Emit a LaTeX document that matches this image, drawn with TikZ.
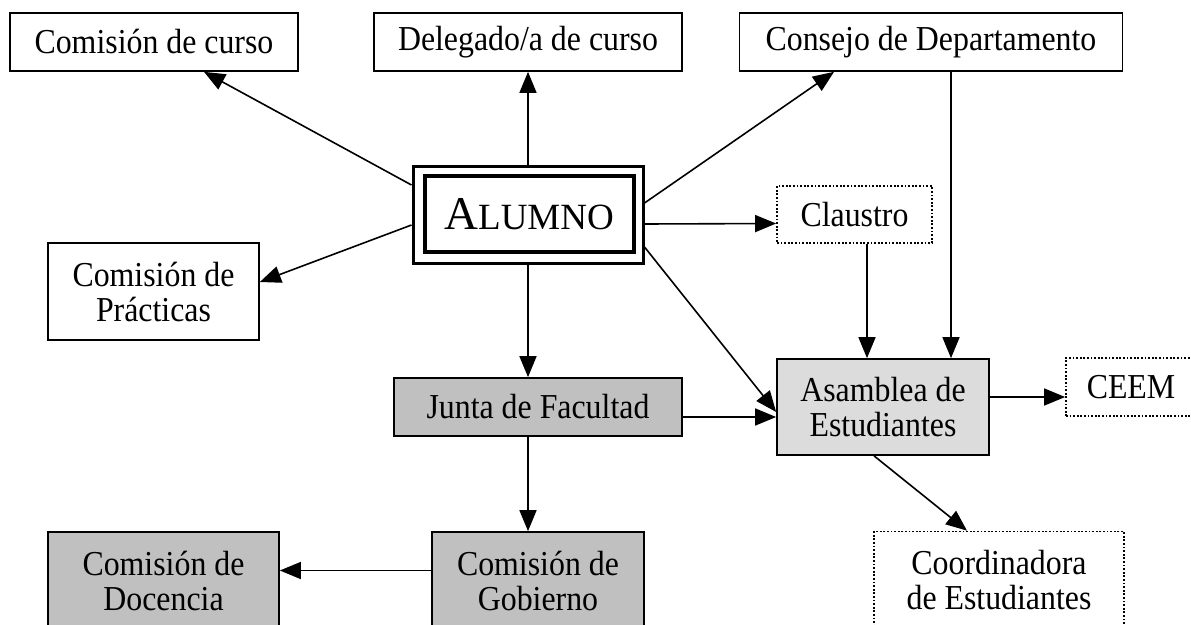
\documentclass[tikz,border=0pt]{standalone}
\usepackage{fontspec}
\setmainfont[FakeStretch=0.91]{Liberation Serif}
\newfontfamily\alfont{Liberation Serif}
\usetikzlibrary{arrows.meta}
\definecolor{darkfill}{HTML}{C0C0C0}
\definecolor{lightfill}{HTML}{DCDCDC}
\begin{document}
\begin{tikzpicture}[x=1pt,y=-1pt,
  box/.style={draw,line width=1.7pt,rectangle,inner sep=0pt,align=center,font=\fontsize{35}{35}\selectfont},
  dotbox/.style={box,dash pattern=on 1.8pt off 1.8pt},
  arr/.style={line width=1.6pt,-{Triangle[length=21pt,width=17pt]}}]
\useasboundingbox (0,0) rectangle (1191,624);
\clip (0,0) rectangle (1191,624);
\fill[white] (0,0) rectangle (1191,624);

% top row
\node[box,minimum width=288pt,minimum height=58pt] (ccurso) at (154,42) {Comisión de curso};
\node[box,minimum width=308pt,minimum height=58pt] (deleg) at (528,42) {Delegado/a de curso};
\node[box,minimum width=383pt,minimum height=58pt] (consejo) at (931,42) {Consejo de Departamento};

% alumno
\node[draw,line width=3pt,minimum width=230pt,minimum height=97pt,inner sep=0pt] (alumnoF) at (528,215) {};
\node[draw,line width=4pt,minimum width=209pt,minimum height=76pt,inner sep=0pt] (alumno) at (529,214)
  {\alfont\fontsize{47}{47}\selectfont A\fontsize{37}{37}\selectfont LUMNO};

\node[dotbox,minimum width=155pt,minimum height=57pt] (claustro) at (854.5,214.5) {Claustro};
\node[box,minimum width=211pt,minimum height=97pt] (practicas) at (153.5,291.5) {Comisión de\\Prácticas};

\node[box,fill=darkfill,minimum width=288pt,minimum height=58pt] (junta) at (538,407) {Junta de Facultad};
\node[box,fill=lightfill,minimum width=212pt,minimum height=96pt] (asamblea) at (883,407) {Asamblea de\\Estudiantes};
\node[dotbox,minimum width=130pt,minimum height=58pt] (ceem) at (1131,387) {CEEM};

\node[box,fill=darkfill,minimum width=212pt,minimum height=97pt] (gobierno) at (538,580.5) {Comisión de\\Gobierno};
\node[box,fill=darkfill,minimum width=231pt,minimum height=97pt] (docencia) at (163.5,580.5) {Comisión de\\Docencia};
\node[dotbox,minimum width=250pt,minimum height=98pt] (coord) at (999,580.5) {Coordinadora\\de Estudiantes};

% connectors
\draw[arr] ([yshift=30pt]alumnoF.west) -- ([xshift=50pt]ccurso.south);
\draw[arr] (alumnoF.north) -- (deleg.south);
\draw[arr] ([yshift=12pt]alumnoF.east) -- ([xshift=-97pt]consejo.south);
\draw[arr] ([yshift=-9pt]alumnoF.east) -- ([yshift=-9pt]claustro.west);
\draw[arr] ([yshift=-32pt]alumnoF.east) -- ([yshift=-5pt]asamblea.west);
\draw[arr] ([yshift=-10pt]alumnoF.west) -- ([yshift=9.5pt]practicas.east);
\draw[arr] (alumnoF.south) -- ([xshift=-10pt]junta.north);
\draw[arr] ([yshift=-10pt]junta.east) -- ([yshift=-10pt]asamblea.west);
\draw[arr] ([xshift=-10pt]junta.south) -- ([xshift=-10pt]gobierno.north);
\draw[arr] ([yshift=10pt]gobierno.west) -- ([yshift=10pt]docencia.east);
\draw[arr] ([xshift=20pt]consejo.south) -- ([xshift=68pt]asamblea.north);
\draw[arr] ([xshift=12.5pt]claustro.south) -- ([xshift=-16pt]asamblea.north);
\draw[arr] ([yshift=10pt]asamblea.east) -- ([yshift=-10pt]ceem.west);
\draw[arr] ([xshift=-9pt]asamblea.south) -- ([xshift=-32pt]coord.north);
\end{tikzpicture}
\end{document}
